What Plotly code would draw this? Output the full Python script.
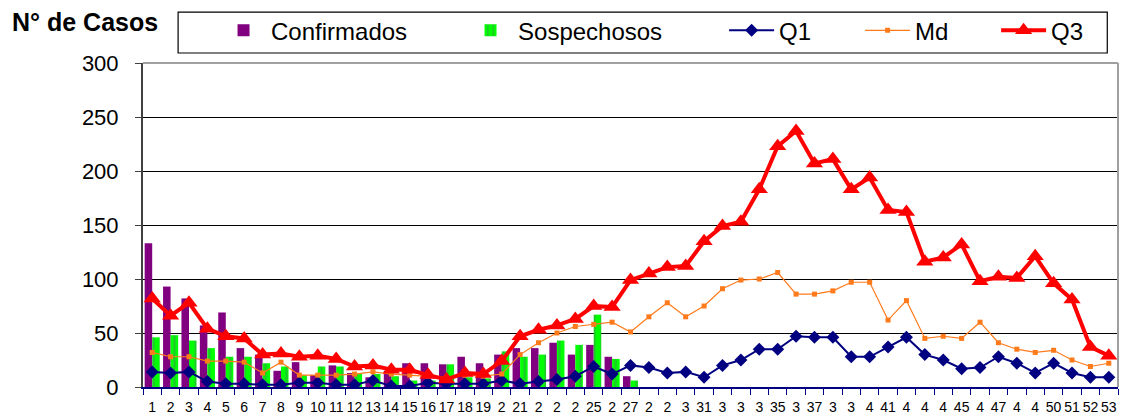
import plotly.graph_objects as go

semanas = list(range(1, 54))
etiquetas = ["1", "2", "3", "4", "5", "6", "7", "8", "9", "10", "11", "12", "13", "14",
             "15", "16", "17", "18", "19", "2", "21", "2", "2", "2", "25", "2", "27", "2",
             "2", "3", "31", "3", "3", "3", "35", "3", "37", "3", "3", "4", "41", "4", "4",
             "4", "45", "4", "47", "4", "4", "50", "51", "52", "53"]

confirmados = [133, 93, 82, 57, 69, 36, 30, 15, 23, 11, 20, 13, 9, 15, 22, 22, 21, 28,
               22, 30, 36, 36, 41, 30, 39, 28, 10]
sospechosos = [46, 48, 43, 36, 28, 28, 22, 19, 11, 19, 19, 12, 12, 10, 6, 6, 21, 9, 8,
               33, 28, 30, 43, 39, 67, 26, 6]

q1 = [14, 13, 14, 5, 3, 3, 2, 2, 4, 4, 2, 2, 6, 1, 1, 4, 3, 3, 3, 6, 3, 5, 7, 10, 19, 12,
      20, 18, 13, 14, 9, 20, 25, 35, 35, 47, 46, 46, 28, 28, 37, 46, 30, 25, 17, 18, 28,
      22, 13, 22, 13, 9, 9]
md = [32, 28, 28, 24, 24, 23, 13, 23, 11, 11, 11, 12, 14, 12, 11, 10, 9, 11, 10, 12, 30,
      41, 50, 56, 58, 60, 51, 65, 78, 65, 75, 91, 99, 100, 106, 86, 86, 89, 97, 97, 62, 80,
      45, 47, 45, 60, 41, 35, 32, 34, 25, 19, 22]
q3 = [82, 66, 78, 54, 47, 45, 30, 31, 28, 29, 26, 19, 20, 16, 16, 11, 7, 13, 12, 24, 47,
      53, 57, 63, 75, 74, 99, 105, 111, 112, 135, 149, 153, 183, 223, 237, 207, 211, 183,
      194, 164, 162, 116, 120, 132, 98, 102, 101, 121, 96, 81, 37, 29]

FONT = "Liberation Sans, Arial, sans-serif"

fig = go.Figure()
fig.add_trace(go.Bar(x=semanas[:len(confirmados)], y=confirmados, name="Confirmados",
                     marker=dict(color="#800080", line=dict(width=0)), legend="legend"))
fig.add_trace(go.Bar(x=semanas[:len(sospechosos)], y=sospechosos, name="Sospechosos",
                     marker=dict(color="#00FF00", line=dict(width=0),
                                 pattern=dict(shape="|", fgcolor="#3D8F5A", size=7,
                                              solidity=0.3)),
                     legend="legend"))
fig.add_trace(go.Scatter(x=semanas, y=q1, name="Q1", mode="lines+markers",
                         line=dict(color="#000080", width=2),
                         marker=dict(symbol="diamond", size=10, color="#000080"),
                         legend="legend2"))
fig.add_trace(go.Scatter(x=semanas, y=md, name="Md", mode="lines+markers",
                         line=dict(color="#FF7A1A", width=1.2),
                         marker=dict(symbol="square", size=5, color="#FF7A1A"),
                         legend="legend2"))
fig.add_trace(go.Scatter(x=semanas, y=q3, name="Q3", mode="lines+markers",
                         line=dict(color="#FF0000", width=4),
                         marker=dict(symbol="triangle-up", size=15, color="#FF0000"),
                         legend="legend2"))

boundaries = [s - 0.5 for s in semanas] + [semanas[-1] + 0.5]

fig.update_layout(
    width=1126, height=415,
    margin=dict(l=143, r=8, t=63, b=28, autoexpand=False),
    paper_bgcolor="white", plot_bgcolor="white",
    font=dict(family=FONT, color="black"),
    barmode="group", bargap=0.18, bargroupgap=0,
    legend=dict(orientation="h", x=0.0749, y=1.169, xanchor="left", yanchor="top",
                font=dict(size=24, family=FONT), itemwidth=45,
                entrywidth=187, entrywidthmode="pixels", bgcolor="rgba(0,0,0,0)",
                borderwidth=0, itemclick=False),
    legend2=dict(orientation="h", x=0.596, y=1.169, xanchor="left", yanchor="top",
                 font=dict(size=24, family=FONT), itemwidth=45,
                 entrywidth=76, entrywidthmode="pixels", bgcolor="rgba(0,0,0,0)",
                 borderwidth=0, itemclick=False),
    xaxis=dict(range=[0.5, 53.5], tickmode="array", tickvals=semanas, ticktext=etiquetas,
               ticks="", tickfont=dict(size=14, family=FONT), showgrid=False,
               zeroline=False, showline=True, linecolor="#000080", linewidth=2,
               ticklabelstandoff=6, automargin=False,
               minor=dict(tickvals=boundaries, ticks="outside", ticklen=6,
                          tickcolor="#000080", tickwidth=1, showgrid=False)),
    yaxis=dict(range=[0, 300], dtick=50, tick0=0, showgrid=True, gridcolor="black",
               gridwidth=1, zeroline=False, showline=True, linecolor="#404040",
               linewidth=2, ticks="outside", ticklen=6, tickcolor="#404040",
               tickfont=dict(size=22, family=FONT), ticklabelstandoff=12,
               automargin=False),
    showlegend=True,
)

# plot-area border (top and right) and legend frame
fig.add_shape(type="line", xref="paper", yref="paper", x0=0, x1=1, y0=1, y1=1,
              line=dict(color="#A0A0A0", width=2), layer="above")
fig.add_shape(type="line", xref="paper", yref="paper", x0=1, x1=1, y0=0, y1=1,
              line=dict(color="#A0A0A0", width=2), layer="above")
fig.add_shape(type="rect", xref="paper", yref="paper", x0=0.036, x1=0.989,
              y0=1.0308, y1=1.157, line=dict(color="black", width=1.2), layer="above")

fig.add_annotation(text="<b>N° de Casos</b>", xref="paper", yref="paper",
                   x=-0.1364, y=1.127, xanchor="left", yanchor="middle",
                   showarrow=False, font=dict(size=25, family=FONT, color="black"))

fig.write_html("out.html", config={"displayModeBar": False},
               post_script="document.body.style.margin='0px';")
